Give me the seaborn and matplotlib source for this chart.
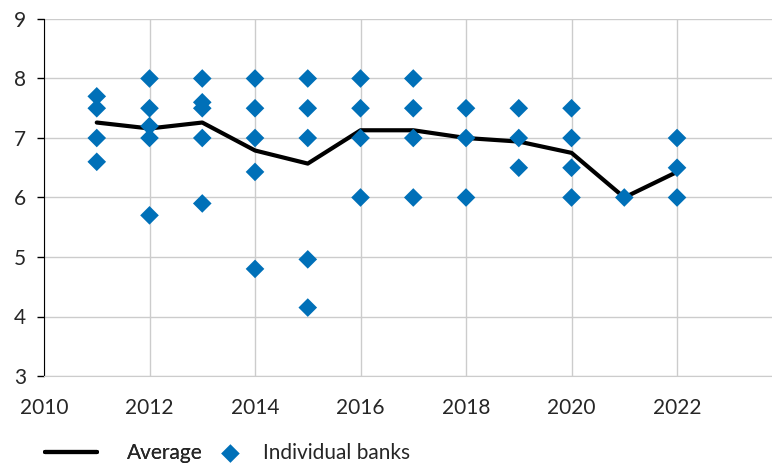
import matplotlib
matplotlib.use("Agg")
import matplotlib.pyplot as plt
import seaborn as sns
import pandas as pd

# Average across banks
avg_years = [2011, 2012, 2013, 2014, 2015, 2016, 2017, 2018, 2019, 2020, 2021, 2022]
avg_values = [7.26, 7.16, 7.26, 6.79, 6.57, 7.13, 7.13, 7.0, 6.94, 6.75, 6.0, 6.43]

# Individual bank observations
bank_years = [2011, 2011, 2011, 2011,
              2012, 2012, 2012, 2012, 2012,
              2013, 2013, 2013, 2013, 2013,
              2014, 2014, 2014, 2014, 2014,
              2015, 2015, 2015, 2015, 2015,
              2016, 2016, 2016, 2016,
              2017, 2017, 2017, 2017,
              2018, 2018, 2018,
              2019, 2019, 2019,
              2020, 2020, 2020, 2020,
              2021,
              2022, 2022, 2022]
bank_values = [7.7, 7.5, 7.0, 6.6,
               8.0, 7.5, 7.2, 7.0, 5.7,
               8.0, 7.6, 7.5, 7.0, 5.9,
               8.0, 7.5, 7.0, 6.43, 4.8,
               8.0, 7.5, 7.0, 4.96, 4.15,
               8.0, 7.5, 7.0, 6.0,
               8.0, 7.5, 7.0, 6.0,
               7.5, 7.0, 6.0,
               7.5, 7.0, 6.5,
               7.5, 7.0, 6.5, 6.0,
               6.0,
               7.0, 6.5, 6.0]

sns.set_style("white")
plt.rcParams['font.family'] = ['Lato', 'DejaVu Sans']

fig = plt.figure(figsize=(7.72, 4.66), dpi=100)
ax = fig.add_axes([44 / 772, 1 - 376 / 466, 1 - 44 / 772, (376 - 19) / 466])

avg_df = pd.DataFrame({"year": avg_years, "value": avg_values})
bank_df = pd.DataFrame({"year": bank_years, "value": bank_values})

sns.lineplot(data=avg_df, x="year", y="value", color="black", linewidth=3,
             ax=ax, label="Average", zorder=2)
sns.scatterplot(data=bank_df, x="year", y="value", marker="D", color="#0070B8",
                s=90, edgecolor="none", ax=ax, label="Individual banks", zorder=3)

ax.set_xlim(2010, 2023.8)
ax.set_ylim(3, 9)
ax.set_xticks(range(2010, 2023, 2))
ax.set_yticks(range(3, 10))
ax.grid(True, color="#cccccc", linewidth=1)
ax.set_axisbelow(True)
ax.set_xlabel("")
ax.set_ylabel("")

for side in ["top", "right"]:
    ax.spines[side].set_visible(False)
ax.spines["bottom"].set_color("#cccccc")
ax.spines["left"].set_color("black")
ax.tick_params(axis="y", left=True, length=5, width=1, color="black",
               labelsize=15, pad=8)
ax.tick_params(axis="x", bottom=False, labelsize=15, pad=12)

ax.legend_.remove()
handles, labels = ax.get_legend_handles_labels()
leg_y = 1 - 453 / 466
leg1 = fig.legend(handles[:1], labels[:1], loc="center left",
                  bbox_to_anchor=(45 / 772, leg_y), frameon=False, fontsize=15,
                  handlelength=2.5, handletextpad=1.45, borderpad=0,
                  borderaxespad=0)
fig.legend(handles[1:], labels[1:], loc="center left",
           bbox_to_anchor=(220 / 772, leg_y), frameon=False, fontsize=15,
           handlelength=1.0, handletextpad=1.05, borderpad=0, borderaxespad=0)
fig.add_artist(leg1)

fig.savefig("out.png", dpi=100)
